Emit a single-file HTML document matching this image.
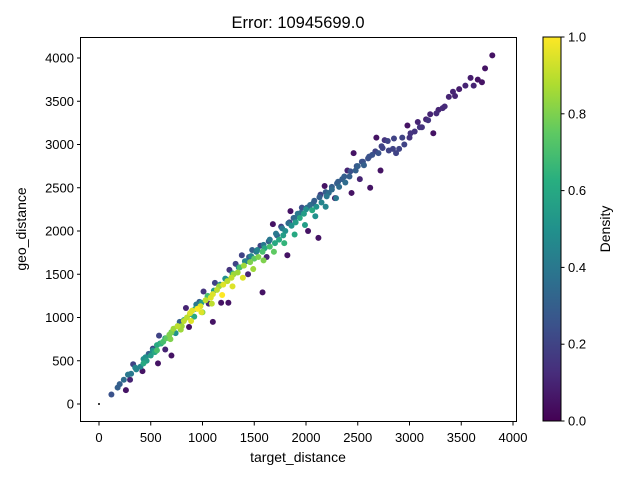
<!DOCTYPE html>
<html><head><meta charset="utf-8"><style>
body{margin:0;background:#fff;font-family:"Liberation Sans",sans-serif}
svg text{font-family:"Liberation Sans",sans-serif;fill:#000}
</style></head><body>
<svg width="640" height="480" viewBox="0 0 640 480">
<defs><linearGradient id="vir" x1="0" y1="1" x2="0" y2="0">
<stop offset="0" stop-color="#440154"/><stop offset="0.125" stop-color="#472d7b"/><stop offset="0.25" stop-color="#3b528b"/><stop offset="0.375" stop-color="#2c728e"/><stop offset="0.5" stop-color="#21918c"/><stop offset="0.625" stop-color="#28ae80"/><stop offset="0.75" stop-color="#5ec962"/><stop offset="0.875" stop-color="#addc30"/><stop offset="1" stop-color="#fde725"/></linearGradient></defs>
<text x="298" y="28" font-size="16.5" text-anchor="middle">Error: 10945699.0</text>
<g id="points"></g>
<rect x="80.5" y="37.5" width="436" height="384" fill="none" stroke="#000" stroke-width="1"/>
<g id="xt"></g>
<g id="yt"></g>
<text x="298" y="462" font-size="14" text-anchor="middle">target_distance</text>
<text transform="translate(26,229) rotate(-90)" font-size="14" text-anchor="middle">geo_distance</text>
<rect x="543" y="37" width="18" height="384" fill="url(#vir)" stroke="#000" stroke-width="1"/>
<g id="ct"></g>
<text transform="translate(610,229) rotate(-90)" font-size="14" text-anchor="middle">Density</text>
</svg>
<script>
const xTicks=[0,500,1000,1500,2000,2500,3000,3500,4000];
const yTicks=[0,500,1000,1500,2000,2500,3000,3500,4000];
const cTicks=["0.0","0.2","0.4","0.6","0.8","1.0"];
const targetVals=[0,120,180,200,240,260,300,310,330,360,400,420,430,460,480,500,520,540,560,570,580,600,620,640,650,680,700,700,720,740,760,780,800,820,840,850,870,880,900,920,940,950,970,980,1000,1010,1030,1050,1060,1080,1100,1100,1120,1140,1160,1180,1200,1220,1240,1250,1260,1280,1300,1320,1340,1360,1380,1400,1420,1440,1450,1460,1480,1500,1520,1540,1560,1580,1580,1600,1620,1640,1650,1680,1700,1720,1740,1760,1780,1800,1820,1840,1850,1860,1880,1900,1920,1940,1960,1980,2000,2020,2040,2060,2080,2100,2120,2140,2150,2180,2200,2220,2250,2280,2300,2320,2350,2380,2400,2420,2440,2460,2480,2500,2520,2540,2560,2600,2620,2640,2680,2700,2720,2740,2760,2800,2840,2870,2900,2950,2980,3000,3050,3080,3120,3160,3200,3230,3280,3320,3380,3420,3480,3540,3590,3620,3660,3700,3730,3800,
280,350,450,520,590,640,700,760,820,880,930,990,1050,1110,1170,1230,1290,1350,1410,1470,1530,1590,1650,1710,1770,1830,1890,1950,2010,2070,2130,2190,2250,2310,2370,2430,2490,2550,2610,2670,2730,2790,2850,2930,3010,3100,3180,3260,3340,3440,
430,560,690,790,890,990,1090,1190,1290,1390,1490,1590,1690,1790,1890,1990,2090,2190,2290];
const geoVals=[0,110,190,230,280,160,280,350,460,400,430,380,520,500,580,560,640,600,680,470,790,700,720,630,760,800,560,830,870,820,900,950,900,960,1110,1000,890,1050,1080,1010,1150,1100,1180,1130,1060,1300,1200,1250,1160,1230,1270,950,1400,1320,1360,1170,1380,1450,1420,1170,1550,1460,1500,1620,1520,1580,1720,1600,1650,1500,1700,1640,1780,1680,1760,1700,1830,1290,1760,1800,1700,1880,1820,2080,1860,1950,1900,2050,1950,2000,1720,2100,2230,2060,2150,2100,2200,2150,2270,2200,2250,2000,2300,2240,2350,2280,1920,2420,2330,2520,2400,2440,2480,2380,2550,2510,2600,2560,2700,2630,2440,2900,2700,2750,2600,2800,2760,2840,2500,2880,3080,2900,2700,2960,3050,2930,2950,2900,2950,3000,3220,3080,3150,3260,3200,3290,3350,3130,3400,3420,3550,3610,3640,3680,3770,3680,3750,3720,3880,4030,
340,420,540,620,700,760,830,900,970,1040,1100,1170,1240,1310,1380,1440,1510,1580,1650,1710,1780,1840,1900,1970,2030,2090,2150,2210,2270,2320,2390,2450,2510,2570,2630,2690,2750,2800,2860,2920,2980,3040,3070,3080,3130,3200,3280,3360,3440,3560,
470,620,750,860,960,1060,1160,1260,1360,1460,1560,1660,1760,1860,1960,2070,2170,2280,2380];
const densityVals=[0,.25,.3,.3,.35,.05,.1,.4,.2,.45,.45,.05,.5,.55,.3,.55,.2,.6,.6,.05,.2,.65,.7,.1,.75,.8,.05,.8,.85,.5,.9,.3,.85,.9,.1,.9,.05,.95,.95,.6,.4,1,.3,.95,.8,.15,.9,.7,.1,.95,.95,.05,.2,.9,.85,.05,.95,.5,.9,.05,.15,.9,.85,.2,.85,.7,.2,.85,.4,.1,.3,.8,.3,.75,.4,.8,.2,.05,.7,.6,.1,.3,.7,.05,.6,.3,.6,.2,.55,.5,.05,.2,.05,.5,.3,.55,.4,.6,.25,.55,.5,.05,.35,.6,.3,.5,.05,.2,.45,.05,.4,.35,.35,.05,.3,.35,.3,.35,.1,.3,.05,.05,.3,.3,.1,.25,.3,.25,.05,.25,.05,.25,.05,.2,.15,.2,.2,.2,.2,.2,.05,.15,.15,.1,.15,.1,.1,.05,.1,.12,.1,.1,.08,.1,.08,.1,.05,.05,.05,.05,
.4,.45,.5,.5,.55,.55,.6,.6,.55,.6,.6,.55,.55,.55,.5,.5,.5,.45,.45,.45,.45,.4,.4,.4,.4,.35,.35,.35,.35,.3,.3,.3,.3,.3,.3,.25,.25,.25,.25,.2,.2,.2,.2,.2,.15,.15,.15,.12,.12,.1,
.6,.7,.8,.85,.95,.95,.9,1,.95,.95,.85,.8,.75,.65,.6,.55,.5,.45,.4];
const xS=v=>99+v*0.1035, yS=v=>404-v*0.0865, cS=v=>421-v*384;
const stops=[[68,1,84],[71,45,123],[59,82,139],[44,114,142],[33,145,140],[40,174,128],[94,201,98],[173,220,48],[253,231,37]];
function vir(t){t=Math.max(0,Math.min(1,t))*8;const i=Math.min(7,Math.floor(t)),f=t-i,a=stops[i],b=stops[i+1];
return `rgb(${a.map((c,k)=>Math.round(c+(b[k]-c)*f)).join(',')})`;}
const NS="http://www.w3.org/2000/svg";
function mk(tag,attrs,parent){const e=document.createElementNS(NS,tag);for(const k in attrs)e.setAttribute(k,attrs[k]);parent.appendChild(e);return e;}
const pg=document.getElementById('points');
const idx=densityVals.map((d,i)=>i).sort((a,b)=>densityVals[a]-densityVals[b]);
idx.forEach(i=>{
 const c=mk('circle',{cx:xS(targetVals[i]),cy:yS(geoVals[i]),r:targetVals[i]===0?1:3,fill:targetVals[i]===0?'#000':vir(densityVals[i])},pg);
 
 
});
const xt=document.getElementById('xt');
xTicks.forEach(v=>{const x=xS(v);
 const l=mk('line',{x1:x,x2:x,y1:422,y2:425.5,stroke:'#000'},xt);
 
 
 const t=mk('text',{x:x,y:442,'font-size':13,'text-anchor':'middle'},xt);t.textContent=v;
 
 });
const yt=document.getElementById('yt');
yTicks.forEach(v=>{const y=yS(v);
 const l=mk('line',{x1:77,x2:80.5,y1:y,y2:y,stroke:'#000'},yt);
 
 
 const t=mk('text',{x:74,y:y+4.5,'font-size':13,'text-anchor':'end'},yt);t.textContent=v;
 
 });
const ct=document.getElementById('ct');
cTicks.forEach(s=>{const y=cS(parseFloat(s));
 const l=mk('line',{x1:561,x2:564.5,y1:y,y2:y,stroke:'#000'},ct);
 
 
 const t=mk('text',{x:568,y:y+4.5,'font-size':13},ct);t.textContent=s;
 
 });
</script>
</body></html>
